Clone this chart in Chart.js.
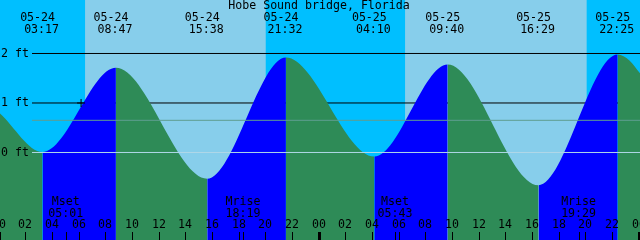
<!DOCTYPE html>
<html>
<head>
<meta charset="utf-8">
<script src="https://cdn.jsdelivr.net/npm/chart.js@4.4.0/dist/chart.umd.min.js"></script>
<style>
  html, body { margin: 0; padding: 0; background: #00BFFF; }
  #wrap { width: 640px; height: 240px; position: relative; }
</style>
</head>
<body>
<div id="wrap"><canvas id="chart-tide"></canvas></div>
<script>
// ============================================================
// Data
// ============================================================
const TITLE = "Hobe Sound bridge, Florida";

// high / low tide events
const tideDates = ["05-24", "05-24", "05-24", "05-24", "05-25", "05-25", "05-25", "05-25"];
const tideClock = ["03:17", "08:47", "15:38", "21:32", "04:10", "09:40", "16:29", "22:25"];
const tideFeet  = [0.01, 1.71, -0.53, 1.92, -0.08, 1.78, -0.66, 1.98];

// curve level near / at the left and right edges of the window
const edgeHours = [0.09, 47.3, 48.09];
const edgeFeet  = [0.79, 1.86, 1.60];

// sun (hours since 05-24 00:00)
const sunriseHours = [6.47, 30.47];
const sunsetHours  = [20.02, 44.09];

// moon
const moonNames = ["Mset", "Mrise", "Mset", "Mrise"];
const moonDates = ["05-24", "05-24", "05-25", "05-25"];
const moonClock = ["05:01", "18:19", "05:43", "19:29"];

// axes
const hourTicks  = [0, 2, 4, 6, 8, 10, 12, 14, 16, 18, 20, 22, 24, 26, 28, 30, 32, 34, 36, 38, 40, 42, 44, 46, 48];
const hourLabels = ["00", "02", "04", "06", "08", "10", "12", "14", "16", "18", "20", "22",
                    "00", "02", "04", "06", "08", "10", "12", "14", "16", "18", "20", "22", "00"];
const levelFeet   = [2, 1, 0];
const levelLabels = ["2 ft", "1 ft", "0 ft"];
const mslFeet = 0.65;
const lineStartHour = 2.49;   // level lines start right of the "ft" labels

// the "+" mark on the rising curve
const markHours = [6.17];
const markFeet  = [1.0];

// ============================================================
// Colours / fonts
// ============================================================
const DAY = "#87CEEB", NIGHT = "#00BFFF";
const FLOOD = "#0000FF", EBB = "#2E8B57";
const MSL_COLOR = "#5f9e90", DATUM_COLOR = "#b0d8e8";
const FONT = "11.6px 'DejaVu Sans Mono', monospace";

function toHours(date, clock) {
  const [hh, mm] = clock.split(":").map(Number);
  return (date === "05-25" ? 24 : 0) + hh + mm / 60;
}

const tideHours = tideClock.map((c, i) => toHours(tideDates[i], c));
const moonHours = moonClock.map((c, i) => toHours(moonDates[i], c));

const xMin = edgeHours[0], xMax = edgeHours[edgeHours.length - 1];

const tidePoints = tideHours.map((h, i) => ({ x: h, y: tideFeet[i] }))
  .concat(edgeHours.map((h, i) => ({ x: h, y: edgeFeet[i] })))
  .sort((a, b) => a.x - b.x);

const hLine = (v) => [{ x: lineStartHour, y: v }, { x: xMax, y: v }];

// ============================================================
// Plugins: sky bands behind, labels and ticks on top
// ============================================================
const skyPlugin = {
  id: "sky",
  beforeDraw(chart) {
    const { ctx, chartArea: a, scales: { x } } = chart;
    ctx.save();
    ctx.fillStyle = NIGHT;
    ctx.fillRect(a.left, a.top, a.right - a.left, a.bottom - a.top);
    ctx.fillStyle = DAY;
    sunriseHours.forEach((r, i) => {
      const x0 = x.getPixelForValue(r), x1 = x.getPixelForValue(sunsetHours[i]);
      ctx.fillRect(x0, a.top, x1 - x0, a.bottom - a.top);
    });
    ctx.restore();
  }
};

const labelPlugin = {
  id: "labels",
  afterDatasetsDraw(chart) {
    const { ctx, scales: { x, y } } = chart;
    ctx.save();
    ctx.font = FONT;
    ctx.fillStyle = "#000";
    ctx.textBaseline = "middle";
    ctx.textAlign = "center";

    // title
    ctx.fillText(TITLE, 319, 6);

    // tide event labels
    tideHours.forEach((h, i) => {
      const px = x.getPixelForValue(h);
      ctx.fillText(tideDates[i], px - 5, 17.5);
      ctx.fillText(tideClock[i], px - 1, 30);
    });

    // level labels
    ctx.textAlign = "left";
    levelFeet.forEach((v, i) => ctx.fillText(levelLabels[i], 1, y.getPixelForValue(v)));

    // moon labels
    ctx.textAlign = "center";
    moonHours.forEach((h, i) => {
      const px = x.getPixelForValue(h);
      ctx.fillText(moonNames[i], px, 202);
      ctx.fillText(moonClock[i], px, 213.5);
    });

    // hour labels + ticks
    ctx.strokeStyle = "#000";
    hourTicks.forEach((h, i) => {
      const px = Math.round(x.getPixelForValue(h));
      ctx.fillText(hourLabels[i], px, 225);
      ctx.lineWidth = h % 24 === 0 ? 3 : 1;
      ctx.beginPath();
      ctx.moveTo(px + 0.5, 232);
      ctx.lineTo(px + 0.5, 240);
      ctx.stroke();
    });
    ctx.lineWidth = 1;
    moonHours.forEach(h => {
      const px = Math.round(x.getPixelForValue(h));
      ctx.beginPath();
      ctx.moveTo(px + 0.5, 232);
      ctx.lineTo(px + 0.5, 240);
      ctx.stroke();
    });
    ctx.restore();
  }
};

// ============================================================
// Chart
// ============================================================
new Chart(document.getElementById("chart-tide"), {
  type: "line",
  data: {
    datasets: [
      // black level lines, under the water
      { data: hLine(levelFeet[0]), borderColor: "#000", borderWidth: 1, pointRadius: 0, fill: false, order: 3 },
      { data: hLine(levelFeet[1]), borderColor: "#000", borderWidth: 1, pointRadius: 0, fill: false, order: 3 },
      // tide curve: blue while rising, green while falling
      {
        data: tidePoints,
        cubicInterpolationMode: "monotone",
        borderColor: "rgba(0,0,0,0)",
        borderWidth: 1,
        pointRadius: 0,
        fill: "start",
        backgroundColor: EBB,
        segment: {
          backgroundColor: c => c.p1.parsed.y > c.p0.parsed.y ? FLOOD : EBB
        },
        order: 2
      },
      // mean level and datum lines, over the water
      { data: hLine(mslFeet), borderColor: MSL_COLOR, borderWidth: 1, pointRadius: 0, fill: false, order: 1 },
      { data: hLine(levelFeet[2]), borderColor: DATUM_COLOR, borderWidth: 1, pointRadius: 0, fill: false, order: 1 },
      // "+" mark
      {
        data: markHours.map((h, i) => ({ x: h, y: markFeet[i] })),
        showLine: false,
        pointStyle: "cross",
        pointRadius: 4,
        borderColor: "#000",
        borderWidth: 1,
        order: 0
      }
    ]
  },
  options: {
    responsive: true,
    maintainAspectRatio: false,
    animation: false,
    events: [],
    layout: { padding: 0, autoPadding: false },
    plugins: { legend: { display: false }, tooltip: { enabled: false } },
    scales: {
      x: { type: "linear", display: false, min: xMin, max: xMax },
      y: { display: false, min: -1.7677, max: 3.0808 }
    }
  },
  plugins: [skyPlugin, labelPlugin]
});
</script>
</body>
</html>
